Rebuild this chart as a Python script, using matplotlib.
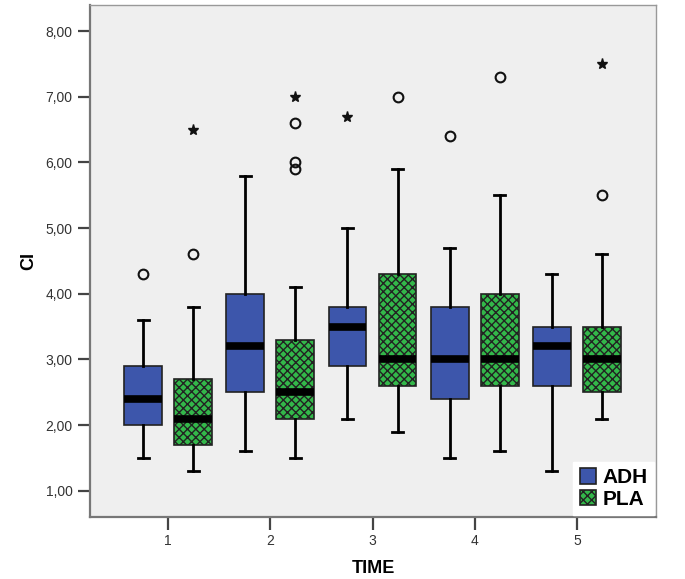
import numpy as np
import matplotlib.pyplot as plt

plt.rcParams['font.family'] = ['Liberation Sans', 'DejaVu Sans']
plt.rcParams['hatch.linewidth'] = 1.0
plt.rcParams['hatch.color'] = "#111111"

times = [1, 2, 3, 4, 5]
groups = ["ADH", "PLA"]

# whisker low, q1, median, q3, whisker high
adh_low = [1.5, 1.6, 2.1, 1.5, 1.3]
adh_q1 = [2.0, 2.5, 2.9, 2.4, 2.6]
adh_med = [2.4, 3.2, 3.5, 3.0, 3.2]
adh_q3 = [2.9, 4.0, 3.8, 3.8, 3.5]
adh_high = [3.6, 5.8, 5.0, 4.7, 4.3]

pla_low = [1.3, 1.5, 1.9, 1.6, 2.1]
pla_q1 = [1.7, 2.1, 2.6, 2.6, 2.5]
pla_med = [2.1, 2.5, 3.0, 3.0, 3.0]
pla_q3 = [2.7, 3.3, 4.3, 4.0, 3.5]
pla_high = [3.8, 4.1, 5.9, 5.5, 4.6]

# outliers (circles) and extremes (stars) per time
adh_out = [[4.3], [], [], [6.4], []]
adh_ext = [[], [], [6.7], [], []]
pla_out = [[4.6], [5.9, 6.0, 6.6], [7.0], [7.3], [5.5]]
pla_ext = [[6.5], [7.0], [], [], [7.5]]

fig = plt.figure(figsize=(6.85, 5.79), dpi=100)
ax = fig.add_axes([0.1314, 0.107, 0.8263, 0.8845])
ax.set_facecolor("#efefef")

offset = 0.245
width = 0.37
series = [
    (adh_low, adh_q1, adh_med, adh_q3, adh_high, adh_out, adh_ext, -offset, "#3d56ab", None),
    (pla_low, pla_q1, pla_med, pla_q3, pla_high, pla_out, pla_ext, offset, "#33b84a", "xxxx"),
]

handles = []
for low, q1, med, q3, high, outs, exts, off, color, hatch in series:
    stats = []
    for i in range(len(times)):
        stats.append(dict(whislo=low[i], q1=q1[i], med=med[i], q3=q3[i], whishi=high[i], fliers=[]))
    pos = [t + off for t in times]
    bp = ax.bxp(stats, positions=pos, widths=width, capwidths=0.11, patch_artist=True,
                showfliers=False,
                boxprops=dict(facecolor=color, edgecolor="#222222", linewidth=1.2, hatch=hatch),
                medianprops=dict(color="black", linewidth=5.5, solid_capstyle="butt"),
                whiskerprops=dict(color="black", linewidth=2),
                capprops=dict(color="black", linewidth=2))
    handles.append(bp["boxes"][0])
    for p, o, e in zip(pos, outs, exts):
        if o:
            ax.plot([p] * len(o), o, linestyle="none", marker="o", markersize=7,
                    markerfacecolor="none", markeredgecolor="#111111", markeredgewidth=1.5)
        if e:
            ax.plot([p] * len(e), e, linestyle="none", marker="*", markersize=8,
                    color="#111111")

ax.set_xlim(0.235, 5.775)
ax.set_ylim(0.6, 8.4)
ax.set_xticks(times)
ax.set_xticklabels([str(t) for t in times], fontsize=10, color="#333333")
yt = np.arange(1, 9)
ax.set_yticks(yt)
ax.set_yticklabels([f"{v:.2f}".replace(".", ",") for v in yt], fontsize=10, color="#333333")
ax.tick_params(axis="both", length=9, width=1.6, color="#444444", direction="out")

for side in ["left", "bottom"]:
    ax.spines[side].set_color("#777777")
    ax.spines[side].set_linewidth(1.6)
for side in ["top", "right"]:
    ax.spines[side].set_color("#999999")
    ax.spines[side].set_linewidth(1.0)

ax.set_xlabel("TIME", fontsize=13, fontweight="bold", labelpad=8)
ax.set_ylabel("CI", fontsize=13, fontweight="bold", labelpad=6)

leg = ax.legend(handles, groups, loc="lower right", frameon=True, fancybox=False,
                prop=dict(size=15, weight="bold"), handlelength=0.8, handleheight=0.8,
                handletextpad=0.3, borderpad=0.3, labelspacing=0.1, borderaxespad=0.1)
leg.get_frame().set_facecolor("white")
leg.get_frame().set_edgecolor("white")
leg.get_frame().set_alpha(1)

fig.savefig("out.png", dpi=100)
